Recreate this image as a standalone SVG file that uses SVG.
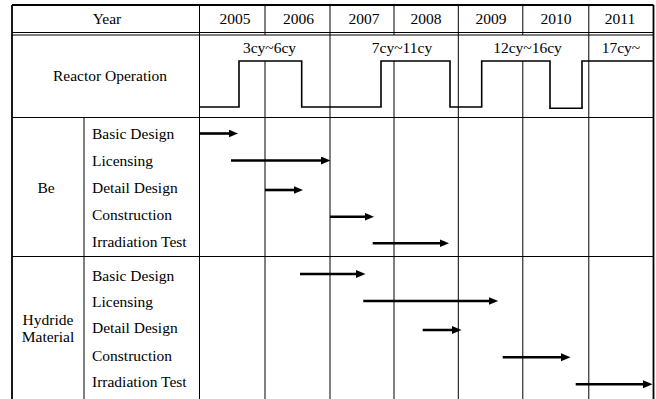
<svg xmlns="http://www.w3.org/2000/svg" width="656" height="399" viewBox="0 0 656 399">
<defs>
<style>
text{font-family:"Liberation Serif","Times New Roman",serif;font-size:15.5px;fill:#000}
.c{text-anchor:middle}
.b{stroke:#000;stroke-width:1.8;fill:none}
.g{stroke:#000;stroke-width:1;fill:none}
.w{stroke:#000;stroke-width:1.6;fill:none}
.a{stroke:#000;stroke-width:2.6;fill:none;marker-end:url(#ah)}
</style>
<marker id="ah" markerUnits="userSpaceOnUse" markerWidth="10" markerHeight="9" refX="3" refY="4" orient="auto">
<path d="M0,0 L9.5,4 L0,8 Z" fill="#000"/>
</marker>
</defs>
<rect width="656" height="399" fill="#fff"/>
<g id="grid">
<path class="b" d="M12,5 H653.5 M12,5 V399 M653.5,5 V399"/>
<path class="g" d="M12,32.5 H653.5 M12,35 H653.5 M12,117.5 H653.5 M12,256.5 H653.5"/>
<path class="g" d="M199.5,5 V399 M84,117.5 V399 M330,5 V399 M458.3,5 V399 M588.8,5 V399"/>
<path class="g" d="M265,5 V35 M265,61 V399 M394,5 V35 M394,61 V399 M522.8,5 V35 M522.8,61 V399"/>
</g>
<g id="header">
<text class="c" x="107" y="24">Year</text>
<text class="c" x="235" y="24">2005</text>
<text class="c" x="298.5" y="24">2006</text>
<text class="c" x="364" y="24">2007</text>
<text class="c" x="426" y="24">2008</text>
<text class="c" x="491" y="24">2009</text>
<text class="c" x="556" y="24">2010</text>
<text class="c" x="620" y="24">2011</text>
</g>
<g id="reactor">
<text class="c" x="110" y="81">Reactor Operation</text>
<text class="c" x="269.5" y="53">3cy~6cy</text>
<text class="c" x="402" y="53">7cy~11cy</text>
<text class="c" x="527.5" y="53">12cy~16cy</text>
<text class="c" x="621" y="53">17cy~</text>
<path class="w" d="M199.5,107 H239 V61 H301.7 V107 H381 V61 H450 V107 H481.7 V61 H550 V108.3 H582 V61 H653.5"/>
</g>
<g id="be">
<text class="c" x="46" y="193">Be</text>
<text x="92" y="139">Basic Design</text>
<text x="92" y="165.7">Licensing</text>
<text x="92" y="192.7">Detail Design</text>
<text x="92" y="220">Construction</text>
<text x="92" y="246.7">Irradiation Test</text>
</g>
<g id="hydride">
<text class="c" x="48" y="325">Hydride</text>
<text class="c" x="48" y="341.7">Material</text>
<text x="92" y="280.7">Basic Design</text>
<text x="92" y="307.3">Licensing</text>
<text x="92" y="333.3">Detail Design</text>
<text x="92" y="360.7">Construction</text>
<text x="92" y="386.7">Irradiation Test</text>
</g>
<g id="connectors">
<line class="a" x1="200" y1="133.5" x2="231.5" y2="133.5"/>
<line class="a" x1="231" y1="160.5" x2="324" y2="160.5"/>
<line class="a" x1="265" y1="190" x2="296.5" y2="190"/>
<line class="a" x1="330" y1="216.7" x2="367.5" y2="216.7"/>
<line class="a" x1="372.7" y1="243.3" x2="442.5" y2="243.3"/>
<line class="a" x1="300" y1="274" x2="359" y2="274"/>
<line class="a" x1="363.3" y1="301" x2="491.7" y2="301"/>
<line class="a" x1="422.7" y1="330" x2="455" y2="330"/>
<line class="a" x1="502.7" y1="357.3" x2="564" y2="357.3"/>
<line class="a" x1="575.7" y1="384.3" x2="646" y2="384.3"/>
</g>
</svg>
